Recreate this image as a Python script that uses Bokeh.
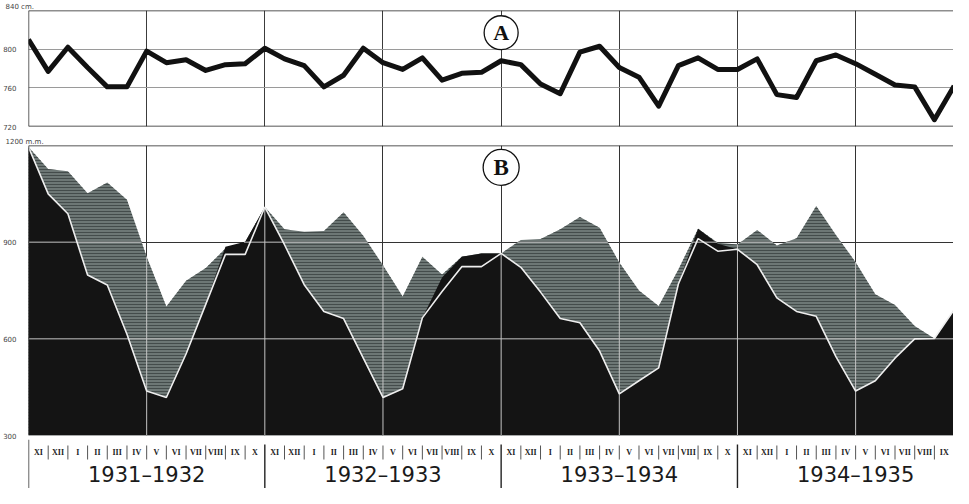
import numpy as np
from bokeh.plotting import figure
from bokeh.layouts import column
from bokeh.models import Range1d, FixedTicker, Span
from bokeh.embed import file_html
from bokeh.resources import INLINE
from bokeh.core.properties import value

# ---------------- data ----------------
months = ["XI", "XII", "I", "II", "III", "IV", "V", "VI", "VII", "VIII", "IX", "X"]
seasons = ["1931–1932", "1932–1933", "1933–1934", "1934–1935"]

# panel A (cm), one value per month boundary
level_a = [810, 777, 802, 781, 761, 761, 798, 786, 789, 778, 784, 785,
           801, 790, 783, 761, 773, 801, 786, 779, 791, 768, 775, 776,
           788, 784, 764, 754, 797, 803, 781, 771, 741, 783, 791, 779,
           779, 790, 753, 750, 788, 794, 785, 774, 763, 761, 727, 762]

# panel B (m.m.)
upper_b = [1195, 1127, 1120, 1052, 1085, 1032, 855, 700, 780, 820, 880, 900,
           1009, 940, 932, 935, 993, 920, 828, 731, 855, 800, 855, 865,
           865, 907, 910, 940, 978, 945, 837, 750, 702, 815, 942, 898,
           893, 938, 890, 912, 1012, 922, 838, 738, 705, 640, 601, 690]
lower_b = [1195, 1050, 988, 798, 767, 614, 438, 418, 553, 707, 886, 901,
           1009, 892, 768, 685, 663, 540, 418, 445, 665, 790, 855, 865,
           865, 822, 745, 663, 650, 562, 429, 470, 510, 770, 942, 895,
           878, 830, 727, 685, 670, 545, 438, 470, 540, 600, 601, 690]
line_b = [1195, 1050, 988, 798, 767, 614, 438, 418, 553, 707, 862, 862,
          1009, 892, 768, 685, 663, 540, 418, 445, 665, 747, 824, 824,
          865, 822, 745, 663, 650, 562, 429, 470, 510, 770, 911, 872,
          878, 830, 727, 685, 670, 545, 438, 470, 540, 600, 601, 690]

a_ticks = [720, 760, 800]
a_tick_labels = ["720", "760", "800"]
a_unit = "840 cm."
b_ticks = [300, 600, 900]
b_tick_labels = ["300", "600", "900"]
b_unit = "1200 m.m."

# ---------------- layout ----------------
x = np.arange(len(level_a))
n_months = 12 * len(seasons)
xr = Range1d(0, 46.97)
W = 953
LEFT = 23
BASE = dict(width=W, x_range=xr, output_backend="svg", toolbar_location=None,
            min_border_left=LEFT, min_border_right=0,
            background_fill_color="white", border_fill_color="white")
mid_x = n_months / 2


def style_yaxis(p, ticks, labels):
    ax = p.yaxis[0]
    ax.ticker = FixedTicker(ticks=ticks)
    ax.major_label_overrides = dict(zip(ticks, labels))
    ax.axis_line_color = None
    ax.major_tick_line_color = None
    ax.minor_tick_line_color = None
    ax.major_label_text_font_size = "7px"
    ax.major_label_text_font = "DejaVu Sans"
    ax.major_label_text_color = "#444444"
    ax.major_label_standoff = 6


def style_title(p, text):
    p.title.text = text
    p.title.align = "left"
    p.title.offset = -LEFT
    p.title.standoff = 0
    p.title.text_font_size = "7px"
    p.title.text_font = "DejaVu Sans"
    p.title.text_font_style = "normal"
    p.title.text_color = "#444444"


# ---- Panel A ----
pa = figure(height=134, y_range=Range1d(720, 840), min_border_top=9, min_border_bottom=8,
            x_axis_location=None, **BASE)
pa.outline_line_color = None
style_title(pa, a_unit)
style_yaxis(pa, a_ticks, a_tick_labels)
pa.xgrid.ticker = FixedTicker(ticks=list(range(6, n_months, 6)))
pa.xgrid.grid_line_color = "#3c3c3c"
pa.ygrid.ticker = FixedTicker(ticks=[760, 800])
pa.ygrid.grid_line_color = "#9a9a9a"
for loc in (840, 720):
    pa.add_layout(Span(location=loc, dimension="width", line_color="#1e1e1e", line_width=1.6))
pa.add_layout(Span(location=0, dimension="height", line_color="#1e1e1e", line_width=1.4))
pa.line(x, level_a, line_width=5, line_color="#111111", line_join="round")
pa.scatter([mid_x], [817], size=34, marker="circle", fill_color="white", line_color="#111111", line_width=1.3)
pa.text([mid_x], [817], text=["A"], text_font=value("Liberation Serif"), text_font_style="bold",
        text_font_size="22px", text_align="center", text_baseline="middle", text_color="#111111")

# ---- Panel B ----
pb = figure(height=305, y_range=Range1d(300, 1200), min_border_top=11, min_border_bottom=4,
            x_axis_location=None, **BASE)
pb.outline_line_color = None
style_title(pb, b_unit)
style_yaxis(pb, b_ticks, b_tick_labels)
grid_x = list(range(6, n_months, 6))
pb.xgrid.ticker = FixedTicker(ticks=grid_x)
pb.xgrid.grid_line_color = "#333333"
pb.ygrid.ticker = FixedTicker(ticks=[600, 900])
pb.ygrid.grid_line_color = "#333333"

pb.varea(x=x, y1=300, y2=upper_b, fill_color="#6d7775",
         hatch_pattern="horizontal_line", hatch_color="#3a4140", hatch_scale=3, hatch_weight=0.8)
pb.varea(x=x, y1=300, y2=lower_b, fill_color="#141414")

# light grid lines over the filled region
xf = np.linspace(0, len(x) - 1, 4701)
tf = np.maximum(np.interp(xf, x, upper_b), np.interp(xf, x, lower_b))
xs, ys = [], []
for v in (600, 900):
    m = tf > v
    i = 0
    while i < len(m):
        if m[i]:
            j = i
            while j + 1 < len(m) and m[j + 1]:
                j += 1
            xs.append([xf[i], xf[j]])
            ys.append([v, v])
            i = j + 1
        else:
            i += 1
for gx in grid_x:
    top = max(np.interp(gx, x, upper_b), np.interp(gx, x, lower_b))
    xs.append([gx, gx])
    ys.append([300, top])
pb.multi_line(xs, ys, line_color="#c4c4c4", line_width=1)

pb.line(x, line_b, line_color="#eeeeee", line_width=1.6)
pb.add_layout(Span(location=1200, dimension="width", line_color="#1e1e1e", line_width=1.6))
pb.add_layout(Span(location=0, dimension="height", line_color="#1e1e1e", line_width=1.4))
pb.scatter([mid_x], [1132], size=36, marker="circle", fill_color="white", line_color="#111111", line_width=1.3)
pb.text([mid_x], [1132], text=["B"], text_font=value("Liberation Serif"), text_font_style="bold",
        text_font_size="23px", text_align="center", text_baseline="middle", text_color="#111111")

# ---- month / season strip ----
pc = figure(height=49, y_range=Range1d(0, 49), min_border_top=0, min_border_bottom=0,
            x_axis_location=None, y_axis_location=None, **BASE)
pc.grid.visible = False
pc.outline_line_color = None
n_vis = n_months - 1
mx = [i + 0.5 for i in range(n_vis)]
mlab = (months * len(seasons))[:n_vis]
pc.text(mx, [36] * n_vis, text=mlab, text_font=value("Liberation Serif"), text_font_style="bold",
        text_font_size="8px", text_align="center", text_baseline="middle", text_color="#222222")
sep_x = [i for i in range(1, n_months) if i % 12 != 0]
pc.segment(x0=sep_x, y0=[29] * len(sep_x), x1=sep_x, y1=[43] * len(sep_x), line_color="#555555", line_width=1)
yb = [12 * k for k in range(len(seasons) + 1)]
pc.segment(x0=yb, y0=[0] * len(yb), x1=yb, y1=[49 if b == 0 else 44 for b in yb],
           line_color="#222222", line_width=1.4)
sx = [12 * k + 6 for k in range(len(seasons))]
pc.text(sx, [14] * len(seasons), text=seasons, text_font=value("DejaVu Sans"), text_font_size="21px",
        text_align="center", text_baseline="middle", text_color="#1a1a1a")

p = column(pa, pb, pc, spacing=0)
open("out.html", "w").write(file_html(p, INLINE))
